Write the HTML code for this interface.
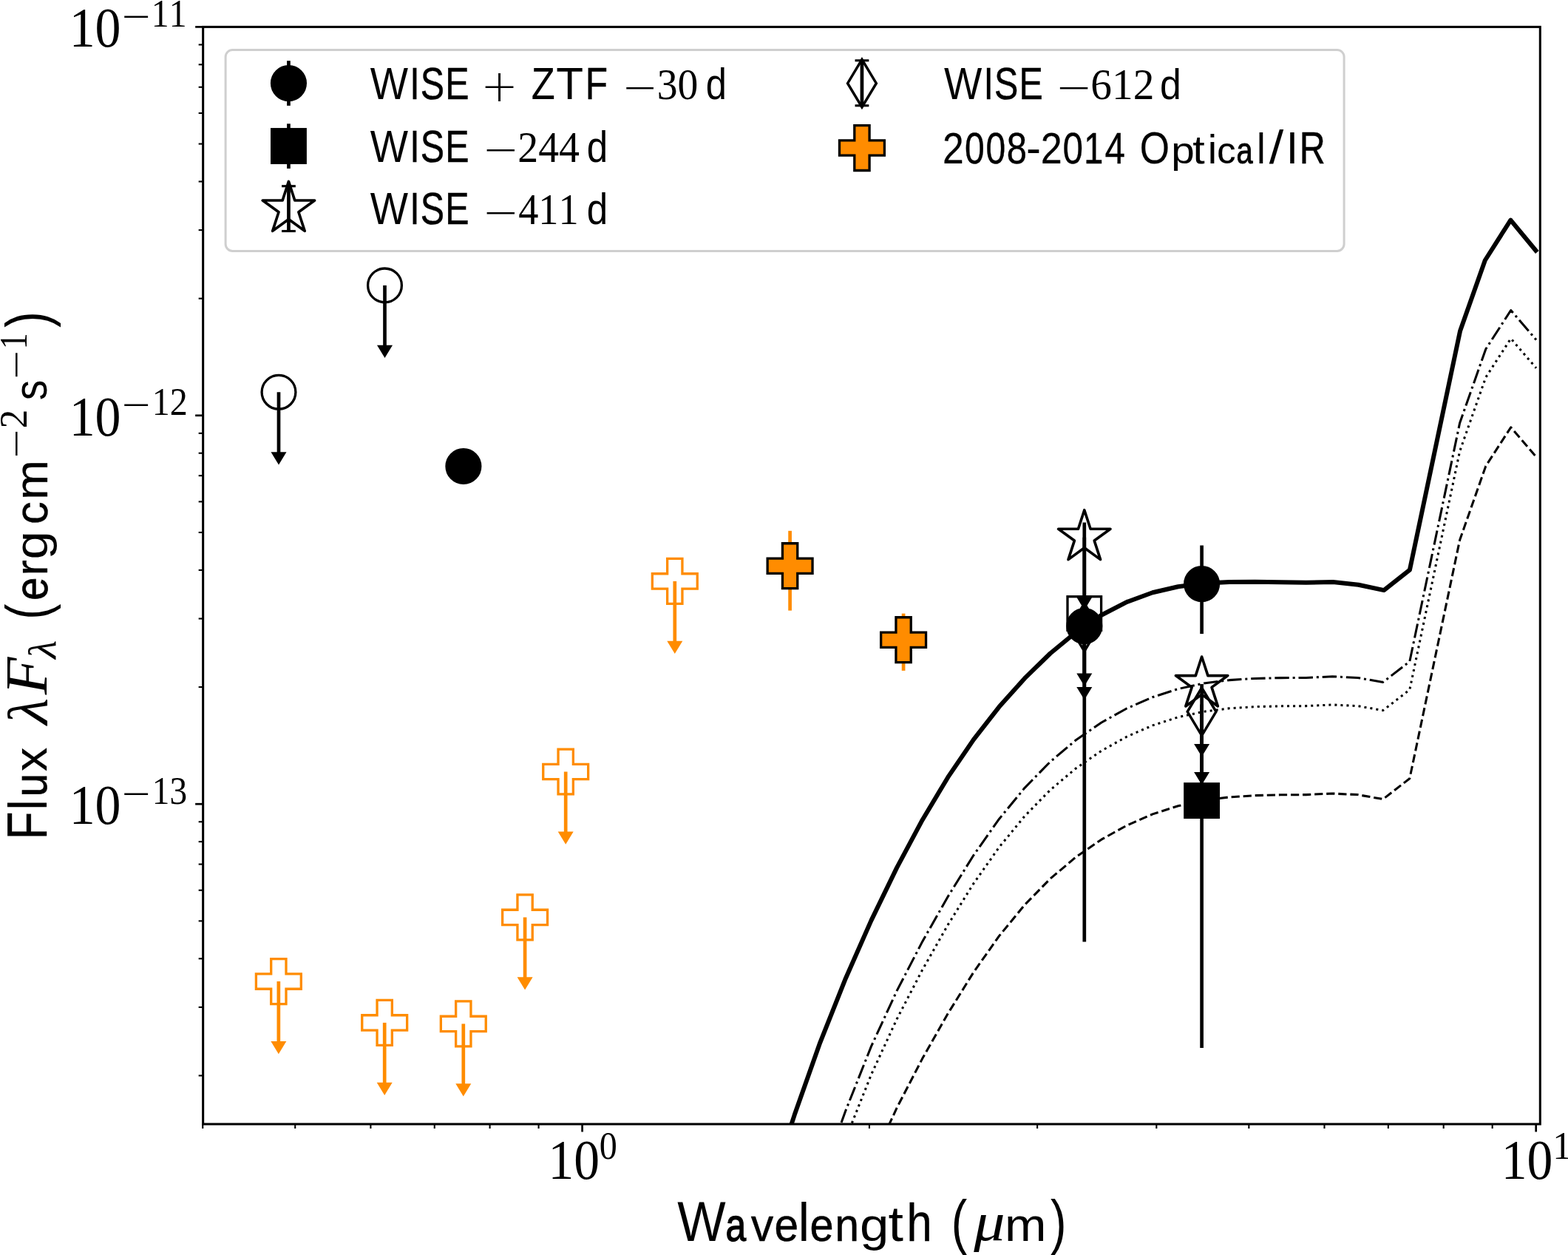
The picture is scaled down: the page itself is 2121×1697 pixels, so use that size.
<!DOCTYPE html>
<html lang="en"><head><meta charset="utf-8"><title>Flux vs Wavelength</title>
<style>
html,body{margin:0;padding:0;background:#fff;}
body{width:2121px;height:1697px;overflow:hidden;}
svg{display:block;}
svg text{font-kerning:none;white-space:pre;}
</style></head>
<body>
<svg xmlns="http://www.w3.org/2000/svg" width="2121" height="1697" viewBox="0 0 2121 1697">
<rect width="2121" height="1697" fill="#fff"/>
<defs><clipPath id="axclip"><rect x="274.65" y="36.40" width="1808.65" height="1483.60"/></clipPath></defs>
<g clip-path="url(#axclip)" fill="none" stroke="#000" stroke-linejoin="round">
<path d="M970.90,1823.44 L1005.50,1718.16 L1040.10,1612.88 L1074.70,1507.62 L1109.30,1409.85 L1143.90,1322.93 L1178.50,1244.59 L1213.10,1173.43 L1247.70,1108.71 L1282.30,1050.93 L1316.90,1000.16 L1351.50,955.83 L1386.10,917.13 L1420.70,883.49 L1455.30,854.97 L1489.90,831.77 L1524.50,813.93 L1559.10,801.21 L1593.70,793.22 L1628.30,788.86 L1662.90,787.01 L1697.50,786.74 L1732.10,787.24 L1766.70,787.74 L1803.10,786.90 L1837.50,790.70 L1872.00,798.10 L1906.90,770.70 L1975.00,447.80 L2008.80,352.00 L2043.40,297.60 L2079.30,341.00" stroke-width="6.0"/>
<path d="M970.90,1988.49 L1005.50,1891.11 L1040.10,1793.72 L1074.70,1696.34 L1109.30,1598.95 L1143.90,1501.76 L1178.50,1414.87 L1213.10,1339.91 L1247.70,1273.16 L1282.30,1212.22 L1316.90,1156.55 L1351.50,1107.43 L1386.10,1065.32 L1420.70,1029.96 L1455.30,1000.79 L1489.90,976.98 L1524.50,957.77 L1559.10,942.72 L1593.70,931.53 L1628.30,924.04 L1662.90,919.64 L1697.50,917.44 L1732.10,916.61 L1766.70,916.42 L1802.30,914.80 L1836.50,916.40 L1870.80,922.40 L1906.80,894.50 L1974.60,572.00 L2009.80,472.00 L2043.70,419.60 L2078.00,459.50" stroke-width="3.05" stroke-dasharray="19.42 4.86 3.04 4.86" stroke-dashoffset="15.67"/>
<path d="M970.90,2026.69 L1005.50,1929.31 L1040.10,1831.92 L1074.70,1734.54 L1109.30,1637.15 L1143.90,1539.96 L1178.50,1453.07 L1213.10,1378.11 L1247.70,1311.36 L1282.30,1250.42 L1316.90,1194.75 L1351.50,1145.63 L1386.10,1103.52 L1420.70,1068.16 L1455.30,1038.99 L1489.90,1015.18 L1524.50,995.97 L1559.10,980.92 L1593.70,969.73 L1628.30,962.24 L1662.90,957.84 L1697.50,955.64 L1732.10,954.81 L1766.70,954.62 L1802.30,953.00 L1836.50,954.60 L1870.80,960.60 L1906.80,932.70 L1974.60,610.20 L2009.80,510.20 L2043.70,457.80 L2078.00,497.70" stroke-width="3.05" stroke-dasharray="3.04 5.01" stroke-dashoffset="7.94"/>
<path d="M970.90,2146.69 L1005.50,2049.31 L1040.10,1951.92 L1074.70,1854.54 L1109.30,1757.15 L1143.90,1659.96 L1178.50,1573.07 L1213.10,1498.11 L1247.70,1431.36 L1282.30,1370.42 L1316.90,1314.75 L1351.50,1265.63 L1386.10,1223.52 L1420.70,1188.16 L1455.30,1158.99 L1489.90,1135.18 L1524.50,1115.97 L1559.10,1100.92 L1593.70,1089.73 L1628.30,1082.24 L1662.90,1077.84 L1697.50,1075.64 L1732.10,1074.81 L1766.70,1074.62 L1802.30,1073.00 L1836.50,1074.60 L1870.80,1080.60 L1906.80,1052.70 L1974.60,730.20 L2009.80,630.20 L2043.70,577.80 L2078.00,617.70" stroke-width="3.05" stroke-dasharray="11.23 4.86" stroke-dashoffset="10.14"/>
</g>
<g id="data" clip-path="url(#axclip)">
<polygon points="366.70,1296.65 387.00,1296.65 387.00,1316.95 407.30,1316.95 407.30,1337.25 387.00,1337.25 387.00,1357.55 366.70,1357.55 366.70,1337.25 346.40,1337.25 346.40,1316.95 366.70,1316.95" fill="none" stroke="#FF8C00" stroke-width="3.30" stroke-linejoin="miter"/>
<line x1="376.85" y1="1327.10" x2="376.85" y2="1411.00" stroke="#FF8C00" stroke-width="4.70"/>
<polygon points="366.35,1408.00 387.35,1408.00 376.85,1425.30" fill="#FF8C00"/>
<polygon points="510.05,1352.45 530.35,1352.45 530.35,1372.75 550.65,1372.75 550.65,1393.05 530.35,1393.05 530.35,1413.35 510.05,1413.35 510.05,1393.05 489.75,1393.05 489.75,1372.75 510.05,1372.75" fill="none" stroke="#FF8C00" stroke-width="3.30" stroke-linejoin="miter"/>
<line x1="520.20" y1="1382.90" x2="520.20" y2="1466.80" stroke="#FF8C00" stroke-width="4.70"/>
<polygon points="509.70,1463.80 530.70,1463.80 520.20,1481.10" fill="#FF8C00"/>
<polygon points="616.65,1353.95 636.95,1353.95 636.95,1374.25 657.25,1374.25 657.25,1394.55 636.95,1394.55 636.95,1414.85 616.65,1414.85 616.65,1394.55 596.35,1394.55 596.35,1374.25 616.65,1374.25" fill="none" stroke="#FF8C00" stroke-width="3.30" stroke-linejoin="miter"/>
<line x1="626.80" y1="1384.40" x2="626.80" y2="1468.30" stroke="#FF8C00" stroke-width="4.70"/>
<polygon points="616.30,1465.30 637.30,1465.30 626.80,1482.60" fill="#FF8C00"/>
<polygon points="699.95,1209.95 720.25,1209.95 720.25,1230.25 740.55,1230.25 740.55,1250.55 720.25,1250.55 720.25,1270.85 699.95,1270.85 699.95,1250.55 679.65,1250.55 679.65,1230.25 699.95,1230.25" fill="none" stroke="#FF8C00" stroke-width="3.30" stroke-linejoin="miter"/>
<line x1="710.10" y1="1240.40" x2="710.10" y2="1324.30" stroke="#FF8C00" stroke-width="4.70"/>
<polygon points="699.60,1321.30 720.60,1321.30 710.10,1338.60" fill="#FF8C00"/>
<polygon points="755.05,1013.05 775.35,1013.05 775.35,1033.35 795.65,1033.35 795.65,1053.65 775.35,1053.65 775.35,1073.95 755.05,1073.95 755.05,1053.65 734.75,1053.65 734.75,1033.35 755.05,1033.35" fill="none" stroke="#FF8C00" stroke-width="3.30" stroke-linejoin="miter"/>
<line x1="765.20" y1="1043.50" x2="765.20" y2="1127.40" stroke="#FF8C00" stroke-width="4.70"/>
<polygon points="754.70,1124.40 775.70,1124.40 765.20,1141.70" fill="#FF8C00"/>
<polygon points="902.65,755.45 922.95,755.45 922.95,775.75 943.25,775.75 943.25,796.05 922.95,796.05 922.95,816.35 902.65,816.35 902.65,796.05 882.35,796.05 882.35,775.75 902.65,775.75" fill="none" stroke="#FF8C00" stroke-width="3.30" stroke-linejoin="miter"/>
<line x1="912.80" y1="785.90" x2="912.80" y2="869.80" stroke="#FF8C00" stroke-width="4.70"/>
<polygon points="902.30,866.80 923.30,866.80 912.80,884.10" fill="#FF8C00"/>
<line x1="1068.60" y1="717.80" x2="1068.60" y2="825.60" stroke="#FF8C00" stroke-width="4.70"/>
<polygon points="1058.45,734.75 1078.75,734.75 1078.75,755.05 1099.05,755.05 1099.05,775.35 1078.75,775.35 1078.75,795.65 1058.45,795.65 1058.45,775.35 1038.15,775.35 1038.15,755.05 1058.45,755.05" fill="#FF8C00" stroke="#000" stroke-width="3.30" stroke-linejoin="miter"/>
<line x1="1222.10" y1="829.60" x2="1222.10" y2="906.90" stroke="#FF8C00" stroke-width="4.70"/>
<polygon points="1211.95,834.75 1232.25,834.75 1232.25,855.05 1252.55,855.05 1252.55,875.35 1232.25,875.35 1232.25,895.65 1211.95,895.65 1211.95,875.35 1191.65,875.35 1191.65,855.05 1211.95,855.05" fill="#FF8C00" stroke="#000" stroke-width="3.30" stroke-linejoin="miter"/>
<line x1="1466.80" y1="706.60" x2="1466.80" y2="1273.60" stroke="#000" stroke-width="4.70"/>
<polygon points="1466.80,689.70 1475.11,715.27 1501.99,715.27 1480.24,731.07 1488.55,756.63 1466.80,740.83 1445.05,756.63 1453.36,731.07 1431.61,715.27 1458.49,715.27" fill="none" stroke="#000" stroke-width="3.65" stroke-linejoin="round"/>
<line x1="1466.80" y1="726.70" x2="1466.80" y2="810.60" stroke="#000" stroke-width="4.70"/>
<polygon points="1456.30,807.60 1477.30,807.60 1466.80,824.90" fill="#000"/>
<rect x="1444.00" y="806.70" width="45.60" height="45.60" fill="none" stroke="#000" stroke-width="3.30"/>
<line x1="1466.80" y1="829.50" x2="1466.80" y2="913.40" stroke="#000" stroke-width="4.70"/>
<polygon points="1456.30,910.40 1477.30,910.40 1466.80,927.70" fill="#000"/>
<polygon points="1466.80,816.00 1486.18,848.30 1466.80,880.60 1447.42,848.30" fill="none" stroke="#000" stroke-width="3.50" stroke-linejoin="miter"/>
<line x1="1466.80" y1="848.00" x2="1466.80" y2="931.90" stroke="#000" stroke-width="4.70"/>
<polygon points="1456.30,928.90 1477.30,928.90 1466.80,946.20" fill="#000"/>
<circle cx="1466.80" cy="846.60" r="22.90" fill="#000" stroke="#000" stroke-width="3.30"/>
<line x1="1625.60" y1="737.50" x2="1625.60" y2="857.10" stroke="#000" stroke-width="4.70"/>
<circle cx="1625.60" cy="789.60" r="22.90" fill="#000" stroke="#000" stroke-width="3.30"/>
<line x1="1625.60" y1="952.50" x2="1625.60" y2="1417.10" stroke="#000" stroke-width="4.70"/>
<polygon points="1625.60,888.00 1633.91,913.57 1660.79,913.57 1639.04,929.37 1647.35,954.93 1625.60,939.13 1603.85,954.93 1612.16,929.37 1590.41,913.57 1617.29,913.57" fill="none" stroke="#000" stroke-width="3.65" stroke-linejoin="round"/>
<line x1="1625.60" y1="925.00" x2="1625.60" y2="1008.90" stroke="#000" stroke-width="4.70"/>
<polygon points="1615.10,1005.90 1636.10,1005.90 1625.60,1023.20" fill="#000"/>
<polygon points="1625.60,930.00 1644.98,962.30 1625.60,994.60 1606.22,962.30" fill="none" stroke="#000" stroke-width="3.50" stroke-linejoin="miter"/>
<line x1="1625.60" y1="963.00" x2="1625.60" y2="1046.90" stroke="#000" stroke-width="4.70"/>
<polygon points="1615.10,1043.90 1636.10,1043.90 1625.60,1061.20" fill="#000"/>
<rect x="1602.80" y="1059.80" width="45.60" height="45.60" fill="#000" stroke="#000" stroke-width="3.30"/>
<circle cx="377.00" cy="530.30" r="22.90" fill="none" stroke="#000" stroke-width="3.30"/>
<line x1="377.00" y1="530.30" x2="377.00" y2="614.20" stroke="#000" stroke-width="4.70"/>
<polygon points="366.50,611.20 387.50,611.20 377.00,628.50" fill="#000"/>
<circle cx="520.50" cy="385.90" r="22.90" fill="none" stroke="#000" stroke-width="3.30"/>
<line x1="520.50" y1="385.90" x2="520.50" y2="469.80" stroke="#000" stroke-width="4.70"/>
<polygon points="510.00,466.80 531.00,466.80 520.50,484.10" fill="#000"/>
<circle cx="626.90" cy="630.50" r="22.90" fill="#000" stroke="#000" stroke-width="3.30"/>
</g>
<rect x="274.65" y="36.40" width="1808.65" height="1483.60" fill="none" stroke="#000" stroke-width="3.05"/>
<g stroke="#000"><line x1="787.60" y1="1520.00" x2="787.60" y2="1530.50" stroke-width="2.70"/><line x1="2077.70" y1="1520.00" x2="2077.70" y2="1530.50" stroke-width="2.70"/><line x1="274.22" y1="1520.00" x2="274.22" y2="1526.00" stroke-width="2.10"/><line x1="399.24" y1="1520.00" x2="399.24" y2="1526.00" stroke-width="2.10"/><line x1="501.39" y1="1520.00" x2="501.39" y2="1526.00" stroke-width="2.10"/><line x1="587.76" y1="1520.00" x2="587.76" y2="1526.00" stroke-width="2.10"/><line x1="662.58" y1="1520.00" x2="662.58" y2="1526.00" stroke-width="2.10"/><line x1="728.57" y1="1520.00" x2="728.57" y2="1526.00" stroke-width="2.10"/><line x1="1175.96" y1="1520.00" x2="1175.96" y2="1526.00" stroke-width="2.10"/><line x1="1403.13" y1="1520.00" x2="1403.13" y2="1526.00" stroke-width="2.10"/><line x1="1564.32" y1="1520.00" x2="1564.32" y2="1526.00" stroke-width="2.10"/><line x1="1689.34" y1="1520.00" x2="1689.34" y2="1526.00" stroke-width="2.10"/><line x1="1791.49" y1="1520.00" x2="1791.49" y2="1526.00" stroke-width="2.10"/><line x1="1877.86" y1="1520.00" x2="1877.86" y2="1526.00" stroke-width="2.10"/><line x1="1952.68" y1="1520.00" x2="1952.68" y2="1526.00" stroke-width="2.10"/><line x1="2018.67" y1="1520.00" x2="2018.67" y2="1526.00" stroke-width="2.10"/><line x1="274.65" y1="36.40" x2="264.15" y2="36.40" stroke-width="2.70"/><line x1="274.65" y1="561.80" x2="264.15" y2="561.80" stroke-width="2.70"/><line x1="274.65" y1="1087.20" x2="264.15" y2="1087.20" stroke-width="2.70"/><line x1="274.65" y1="1454.44" x2="268.65" y2="1454.44" stroke-width="2.10"/><line x1="274.65" y1="1361.92" x2="268.65" y2="1361.92" stroke-width="2.10"/><line x1="274.65" y1="1296.28" x2="268.65" y2="1296.28" stroke-width="2.10"/><line x1="274.65" y1="1245.36" x2="268.65" y2="1245.36" stroke-width="2.10"/><line x1="274.65" y1="1203.76" x2="268.65" y2="1203.76" stroke-width="2.10"/><line x1="274.65" y1="1168.59" x2="268.65" y2="1168.59" stroke-width="2.10"/><line x1="274.65" y1="1138.12" x2="268.65" y2="1138.12" stroke-width="2.10"/><line x1="274.65" y1="1111.24" x2="268.65" y2="1111.24" stroke-width="2.10"/><line x1="274.65" y1="929.04" x2="268.65" y2="929.04" stroke-width="2.10"/><line x1="274.65" y1="836.52" x2="268.65" y2="836.52" stroke-width="2.10"/><line x1="274.65" y1="770.88" x2="268.65" y2="770.88" stroke-width="2.10"/><line x1="274.65" y1="719.96" x2="268.65" y2="719.96" stroke-width="2.10"/><line x1="274.65" y1="678.36" x2="268.65" y2="678.36" stroke-width="2.10"/><line x1="274.65" y1="643.19" x2="268.65" y2="643.19" stroke-width="2.10"/><line x1="274.65" y1="612.72" x2="268.65" y2="612.72" stroke-width="2.10"/><line x1="274.65" y1="585.84" x2="268.65" y2="585.84" stroke-width="2.10"/><line x1="274.65" y1="403.64" x2="268.65" y2="403.64" stroke-width="2.10"/><line x1="274.65" y1="311.12" x2="268.65" y2="311.12" stroke-width="2.10"/><line x1="274.65" y1="245.48" x2="268.65" y2="245.48" stroke-width="2.10"/><line x1="274.65" y1="194.56" x2="268.65" y2="194.56" stroke-width="2.10"/><line x1="274.65" y1="152.96" x2="268.65" y2="152.96" stroke-width="2.10"/><line x1="274.65" y1="117.79" x2="268.65" y2="117.79" stroke-width="2.10"/><line x1="274.65" y1="87.32" x2="268.65" y2="87.32" stroke-width="2.10"/><line x1="274.65" y1="60.44" x2="268.65" y2="60.44" stroke-width="2.10"/></g>
<g id="legend"><rect x="305.1" y="67.5" width="1513.00" height="271.90" rx="9.5" ry="9.5" fill="#fff" stroke="#cfcfcf" stroke-width="3.0"/>
<line x1="390.45" y1="82.20" x2="390.45" y2="142.90" stroke="#000" stroke-width="4.70"/>
<circle cx="390.45" cy="112.60" r="22.90" fill="#000" stroke="#000" stroke-width="3.30"/>
<line x1="390.45" y1="167.30" x2="390.45" y2="227.90" stroke="#000" stroke-width="4.70"/>
<rect x="367.65" y="174.70" width="45.60" height="45.60" fill="#000" stroke="#000" stroke-width="3.30"/>
<polygon points="390.45,245.40 398.76,270.97 425.64,270.97 403.89,286.77 412.20,312.33 390.45,296.53 368.70,312.33 377.01,286.77 355.26,270.97 382.14,270.97" fill="none" stroke="#000" stroke-width="3.65" stroke-linejoin="round"/>
<line x1="390.45" y1="251.70" x2="390.45" y2="312.50" stroke="#000" stroke-width="4.70"/>
<line x1="381.05" y1="251.70" x2="399.85" y2="251.70" stroke="#000" stroke-width="3.10"/>
<line x1="381.05" y1="312.50" x2="399.85" y2="312.50" stroke="#000" stroke-width="3.10"/>
<polygon points="1165.95,80.35 1185.33,112.65 1165.95,144.95 1146.57,112.65" fill="none" stroke="#000" stroke-width="3.50" stroke-linejoin="miter"/>
<line x1="1165.95" y1="81.80" x2="1165.95" y2="142.80" stroke="#000" stroke-width="4.70"/>
<line x1="1156.55" y1="81.80" x2="1175.35" y2="81.80" stroke="#000" stroke-width="3.10"/>
<line x1="1156.55" y1="142.80" x2="1175.35" y2="142.80" stroke="#000" stroke-width="3.10"/>
<polygon points="1155.80,169.60 1176.10,169.60 1176.10,189.90 1196.40,189.90 1196.40,210.20 1176.10,210.20 1176.10,230.50 1155.80,230.50 1155.80,210.20 1135.50,210.20 1135.50,189.90 1155.80,189.90" fill="#FF8C00" stroke="#000" stroke-width="3.30" stroke-linejoin="miter"/>
<g class="legend-label"><text y="133.70" font-family='"Liberation Sans", sans-serif' fill="#000"><tspan font-size="60.90" x="500.76" textLength="51.32" lengthAdjust="spacingAndGlyphs">W</tspan><tspan font-size="60.68" x="554.21" textLength="13.49" lengthAdjust="spacingAndGlyphs" stroke="#000" stroke-width="0.31">I</tspan><tspan font-size="60.59" x="568.85" textLength="32.33" lengthAdjust="spacingAndGlyphs" stroke="#000" stroke-width="0.44">S</tspan><tspan font-size="60.59" x="602.19" textLength="32.33" lengthAdjust="spacingAndGlyphs" stroke="#000" stroke-width="0.44">E</tspan></text><text transform="translate(650.30,137.40) scale(0.6039,0.5997)" font-family='"DejaVu Sans", "Liberation Sans", sans-serif' font-weight="200" font-size="100.00" fill="#000">+</text><text y="133.70" font-family='"Liberation Sans", sans-serif' fill="#000"><tspan font-size="60.79" x="718.80" textLength="31.97" lengthAdjust="spacingAndGlyphs" stroke="#000" stroke-width="0.15">Z</tspan><tspan font-size="60.90" x="752.35" textLength="36.84" lengthAdjust="spacingAndGlyphs">T</tspan><tspan font-size="60.67" x="791.87" textLength="30.29" lengthAdjust="spacingAndGlyphs" stroke="#000" stroke-width="0.33">F</tspan></text><text transform="translate(843.37,135.57) scale(0.7887,0.5020)" font-family='"Liberation Serif", serif' font-size="100.00" fill="#000">−</text><text transform="translate(888.74,133.70) scale(0.9330,1.0000)" font-family='"Liberation Serif", serif' font-size="59.68" fill="#000">30</text><text transform="translate(954.87,133.73) scale(0.5070,0.5828)" font-family='"Liberation Sans", sans-serif' font-size="100.00" fill="#000">d</text></g>
<g class="legend-label"><text y="218.60" font-family='"Liberation Sans", sans-serif' fill="#000"><tspan font-size="60.90" x="500.76" textLength="51.32" lengthAdjust="spacingAndGlyphs">W</tspan><tspan font-size="60.68" x="554.21" textLength="13.49" lengthAdjust="spacingAndGlyphs" stroke="#000" stroke-width="0.31">I</tspan><tspan font-size="60.59" x="568.85" textLength="32.33" lengthAdjust="spacingAndGlyphs" stroke="#000" stroke-width="0.44">S</tspan><tspan font-size="60.59" x="602.19" textLength="32.33" lengthAdjust="spacingAndGlyphs" stroke="#000" stroke-width="0.44">E</tspan></text><text transform="translate(654.50,220.47) scale(0.8037,0.5020)" font-family='"Liberation Serif", serif' font-size="100.00" fill="#000">−</text><text transform="translate(700.25,218.60) scale(0.9352,1.0000)" font-family='"Liberation Serif", serif' font-size="59.68" fill="#000">244</text><text transform="translate(793.65,218.63) scale(0.5114,0.5828)" font-family='"Liberation Sans", sans-serif' font-size="100.00" fill="#000">d</text></g>
<g class="legend-label"><text y="303.40" font-family='"Liberation Sans", sans-serif' fill="#000"><tspan font-size="60.90" x="500.76" textLength="51.32" lengthAdjust="spacingAndGlyphs">W</tspan><tspan font-size="60.68" x="554.21" textLength="13.49" lengthAdjust="spacingAndGlyphs" stroke="#000" stroke-width="0.31">I</tspan><tspan font-size="60.59" x="568.85" textLength="32.33" lengthAdjust="spacingAndGlyphs" stroke="#000" stroke-width="0.44">S</tspan><tspan font-size="60.59" x="602.19" textLength="32.33" lengthAdjust="spacingAndGlyphs" stroke="#000" stroke-width="0.44">E</tspan></text><text transform="translate(654.50,305.27) scale(0.8037,0.5020)" font-family='"Liberation Serif", serif' font-size="100.00" fill="#000">−</text><text transform="translate(701.14,303.40) scale(0.9107,1.0000)" font-family='"Liberation Serif", serif' font-size="59.68" fill="#000">411</text><text transform="translate(793.65,303.43) scale(0.5114,0.5828)" font-family='"Liberation Sans", sans-serif' font-size="100.00" fill="#000">d</text></g>
<g class="legend-label"><text y="133.80" font-family='"Liberation Sans", sans-serif' fill="#000"><tspan font-size="60.90" x="1276.96" textLength="51.32" lengthAdjust="spacingAndGlyphs">W</tspan><tspan font-size="60.68" x="1330.41" textLength="13.49" lengthAdjust="spacingAndGlyphs" stroke="#000" stroke-width="0.31">I</tspan><tspan font-size="60.59" x="1345.05" textLength="32.33" lengthAdjust="spacingAndGlyphs" stroke="#000" stroke-width="0.44">S</tspan><tspan font-size="60.59" x="1378.39" textLength="32.33" lengthAdjust="spacingAndGlyphs" stroke="#000" stroke-width="0.44">E</tspan></text><text transform="translate(1429.69,135.67) scale(0.8059,0.5020)" font-family='"Liberation Serif", serif' font-size="100.00" fill="#000">−</text><text transform="translate(1475.33,133.80) scale(0.9622,1.0000)" font-family='"Liberation Serif", serif' font-size="59.68" fill="#000">612</text><text transform="translate(1569.12,133.83) scale(0.5181,0.5828)" font-family='"Liberation Sans", sans-serif' font-size="100.00" fill="#000">d</text></g>
<g class="legend-label"><text y="221.40" font-family='"Liberation Sans", sans-serif' fill="#000"><tspan font-size="58.77" x="1275.09" textLength="28.73" lengthAdjust="spacingAndGlyphs" stroke="#000" stroke-width="0.19">2</tspan><tspan font-size="58.60" x="1305.10" textLength="26.70" lengthAdjust="spacingAndGlyphs" stroke="#000" stroke-width="0.43">0</tspan><tspan font-size="58.60" x="1333.50" textLength="26.70" lengthAdjust="spacingAndGlyphs" stroke="#000" stroke-width="0.43">0</tspan><tspan font-size="58.65" x="1361.82" textLength="27.26" lengthAdjust="spacingAndGlyphs" stroke="#000" stroke-width="0.36">8</tspan><tspan font-size="61.05" x="1388.02" textLength="20.05" lengthAdjust="spacingAndGlyphs">-</tspan><tspan font-size="58.79" x="1407.85" textLength="29.00" lengthAdjust="spacingAndGlyphs" stroke="#000" stroke-width="0.16">2</tspan><tspan font-size="58.67" x="1437.41" textLength="27.48" lengthAdjust="spacingAndGlyphs" stroke="#000" stroke-width="0.33">0</tspan><tspan font-size="58.50" x="1466.25" textLength="26.03" lengthAdjust="spacingAndGlyphs" stroke="#000" stroke-width="0.56">1</tspan><tspan font-size="58.67" x="1494.51" textLength="27.50" lengthAdjust="spacingAndGlyphs" stroke="#000" stroke-width="0.33">4</tspan></text><text y="221.40" font-family='"Liberation Sans", sans-serif' fill="#000"><tspan font-size="60.77" x="1541.83" textLength="40.27" lengthAdjust="spacingAndGlyphs" stroke="#000" stroke-width="0.19">O</tspan><tspan font-size="50.76" x="1584.35" textLength="31.54" lengthAdjust="spacingAndGlyphs">p</tspan><tspan font-size="52.82" x="1613.30" textLength="16.44" lengthAdjust="spacingAndGlyphs">t</tspan><tspan font-size="54.64" x="1633.67" textLength="12.39" lengthAdjust="spacingAndGlyphs">i</tspan><tspan font-size="50.55" x="1646.36" textLength="25.26" lengthAdjust="spacingAndGlyphs" stroke="#000" stroke-width="0.22">c</tspan><tspan font-size="49.80" x="1672.62" textLength="22.16" lengthAdjust="spacingAndGlyphs" stroke="#000" stroke-width="1.01">a</tspan><tspan font-size="57.72" x="1700.15" textLength="11.28" lengthAdjust="spacingAndGlyphs" stroke="#000" stroke-width="0.16">l</tspan><tspan font-size="62.74" x="1716.79" textLength="19.52" lengthAdjust="spacingAndGlyphs">/</tspan><tspan font-size="60.90" x="1739.76" textLength="16.38" lengthAdjust="spacingAndGlyphs">I</tspan><tspan font-size="60.59" x="1757.84" textLength="35.00" lengthAdjust="spacingAndGlyphs" stroke="#000" stroke-width="0.44">R</tspan></text></g></g>
<g id="labels"><g class="tick">
<text transform="translate(93.66,63.20) scale(0.9120,1.0000)" font-family='"Liberation Serif", serif' font-size="76.65" fill="#000">10</text>
<text transform="translate(164.69,40.03) scale(0.6855,0.5220)" font-family='"Liberation Serif", serif' font-size="100.00" fill="#000">−</text>
<text transform="translate(204.80,35.70) scale(0.9088,1.0000)" font-family='"Liberation Serif", serif' font-size="52.56" fill="#000">11</text>
</g>
<g class="tick">
<text transform="translate(93.66,588.60) scale(0.9120,1.0000)" font-family='"Liberation Serif", serif' font-size="76.65" fill="#000">10</text>
<text transform="translate(164.69,565.43) scale(0.6855,0.5220)" font-family='"Liberation Serif", serif' font-size="100.00" fill="#000">−</text>
<text transform="translate(205.67,561.10) scale(0.9147,1.0000)" font-family='"Liberation Serif", serif' font-size="52.56" fill="#000">12</text>
</g>
<g class="tick">
<text transform="translate(93.66,1114.00) scale(0.9120,1.0000)" font-family='"Liberation Serif", serif' font-size="76.65" fill="#000">10</text>
<text transform="translate(164.69,1090.83) scale(0.6855,0.5220)" font-family='"Liberation Serif", serif' font-size="100.00" fill="#000">−</text>
<text transform="translate(205.74,1086.50) scale(0.9000,1.0000)" font-family='"Liberation Serif", serif' font-size="52.56" fill="#000">13</text>
</g>
<g class="tick">
<text transform="translate(741.48,1594.30) scale(0.9091,1.0000)" font-family='"Liberation Serif", serif' font-size="76.65" fill="#000">10</text>
<text transform="translate(810.77,1566.90) scale(0.9157,1.0000)" font-family='"Liberation Serif", serif' font-size="52.56" fill="#000">0</text>
</g><g class="tick">
<text transform="translate(2030.78,1594.30) scale(0.9091,1.0000)" font-family='"Liberation Serif", serif' font-size="76.65" fill="#000">10</text>
<text transform="translate(2100.31,1566.60) scale(0.9727,1.0000)" font-family='"Liberation Serif", serif' font-size="52.56" fill="#000">1</text>
</g>
<g class="xlabel">
<text y="1677.50" font-family='"Liberation Sans", sans-serif' fill="#000"><tspan font-size="76.02" x="916.20" textLength="65.44" lengthAdjust="spacingAndGlyphs">W</tspan><tspan font-size="62.16" x="981.57" textLength="27.65" lengthAdjust="spacingAndGlyphs" stroke="#000" stroke-width="1.27">a</tspan><tspan font-size="62.99" x="1015.78" textLength="30.54" lengthAdjust="spacingAndGlyphs" stroke="#000" stroke-width="0.39">v</tspan><tspan font-size="62.85" x="1047.46" textLength="32.60" lengthAdjust="spacingAndGlyphs" stroke="#000" stroke-width="0.53">e</tspan><tspan font-size="72.18" x="1079.45" textLength="15.67" lengthAdjust="spacingAndGlyphs">l</tspan><tspan font-size="62.80" x="1095.62" textLength="32.07" lengthAdjust="spacingAndGlyphs" stroke="#000" stroke-width="0.59">e</tspan><tspan font-size="62.88" x="1129.33" textLength="32.76" lengthAdjust="spacingAndGlyphs" stroke="#000" stroke-width="0.51">n</tspan><tspan font-size="63.36" x="1163.12" textLength="39.45" lengthAdjust="spacingAndGlyphs">g</tspan><tspan font-size="65.93" x="1201.45" textLength="20.52" lengthAdjust="spacingAndGlyphs">t</tspan><tspan font-size="71.90" x="1226.51" textLength="34.22" lengthAdjust="spacingAndGlyphs" stroke="#000" stroke-width="0.40">h</tspan></text>
<text transform="translate(1286.80,1679.71) scale(0.6450,0.8158)" font-family='"Liberation Sans", sans-serif' font-size="100.00" fill="#000">(</text>
<text transform="translate(1317.28,1677.40) scale(1.1448,1.0000)" font-family='"Liberation Serif", serif' font-style="italic" font-size="73.64" fill="#000">μ</text>
<text transform="translate(1358.90,1677.50) scale(0.6779,0.6282)" font-family='"Liberation Sans", sans-serif' font-size="100.00" fill="#000">m</text>
<text transform="translate(1421.12,1679.71) scale(0.6450,0.8158)" font-family='"Liberation Sans", sans-serif' font-size="100.00" fill="#000">)</text>
</g>
<g class="ylabel" transform="translate(63.3,1130.4) rotate(-90)">
<text y="0.00" font-family='"Liberation Sans", sans-serif' fill="#000"><tspan font-size="76.00" x="-4.91" textLength="37.81" lengthAdjust="spacingAndGlyphs" stroke="#000" stroke-width="0.42">F</tspan><tspan font-size="72.39" x="34.69" textLength="14.69" lengthAdjust="spacingAndGlyphs" stroke="#000" stroke-width="0.10">l</tspan><tspan font-size="62.94" x="53.16" textLength="31.26" lengthAdjust="spacingAndGlyphs" stroke="#000" stroke-width="0.69">u</tspan><tspan font-size="63.41" x="87.48" textLength="32.31" lengthAdjust="spacingAndGlyphs" stroke="#000" stroke-width="0.20">x</tspan></text>
<text transform="translate(150.62,0.60) scale(1.0871,1.0000)" font-family='"Liberation Serif", serif' font-style="italic" font-size="76.13" fill="#000">λ</text>
<text transform="translate(191.05,0.00) scale(1.0444,1.0000)" font-family='"Liberation Serif", serif' font-style="italic" font-size="79.42" fill="#000">F</text>
<text transform="translate(239.61,11.80) scale(1.0865,1.0000)" font-family='"Liberation Serif", serif' font-style="italic" font-size="52.98" fill="#000">λ</text>
<text transform="translate(292.65,1.83) scale(0.6374,0.8147)" font-family='"Liberation Sans", sans-serif' font-size="100.00" fill="#000">(</text>
<text y="0.40" font-family='"Liberation Sans", sans-serif' fill="#000"><tspan font-size="62.92" x="318.54" textLength="31.12" lengthAdjust="spacingAndGlyphs" stroke="#000" stroke-width="0.72">e</tspan><tspan font-size="63.46" x="351.63" textLength="21.78" lengthAdjust="spacingAndGlyphs" stroke="#000" stroke-width="0.15">r</tspan><tspan font-size="63.60" x="373.80" textLength="38.46" lengthAdjust="spacingAndGlyphs">g</tspan></text>
<text y="0.40" font-family='"Liberation Sans", sans-serif' fill="#000"><tspan font-size="63.25" x="421.36" textLength="30.78" lengthAdjust="spacingAndGlyphs" stroke="#000" stroke-width="0.37">c</tspan><tspan font-size="63.41" x="454.49" textLength="54.10" lengthAdjust="spacingAndGlyphs" stroke="#000" stroke-width="0.19">m</tspan></text>
<text transform="translate(510.86,-24.33) scale(0.6898,0.5020)" font-family='"Liberation Serif", serif' font-size="100.00" fill="#000">−</text>
<text transform="translate(551.16,-27.50) scale(0.9598,1.0000)" font-family='"Liberation Serif", serif' font-size="53.02" fill="#000">2</text>
<text transform="translate(589.27,0.19) scale(0.5504,0.6204)" font-family='"Liberation Sans", sans-serif' font-size="100.00" fill="#000">s</text>
<text transform="translate(617.58,-24.33) scale(0.6877,0.5020)" font-family='"Liberation Serif", serif' font-size="100.00" fill="#000">−</text>
<text transform="translate(658.13,-27.50) scale(0.8304,1.0000)" font-family='"Liberation Serif", serif' font-size="53.02" fill="#000">1</text>
<text transform="translate(687.52,1.83) scale(0.6563,0.8147)" font-family='"Liberation Sans", sans-serif' font-size="100.00" fill="#000">)</text>
</g></g>
</svg>
</body></html>
